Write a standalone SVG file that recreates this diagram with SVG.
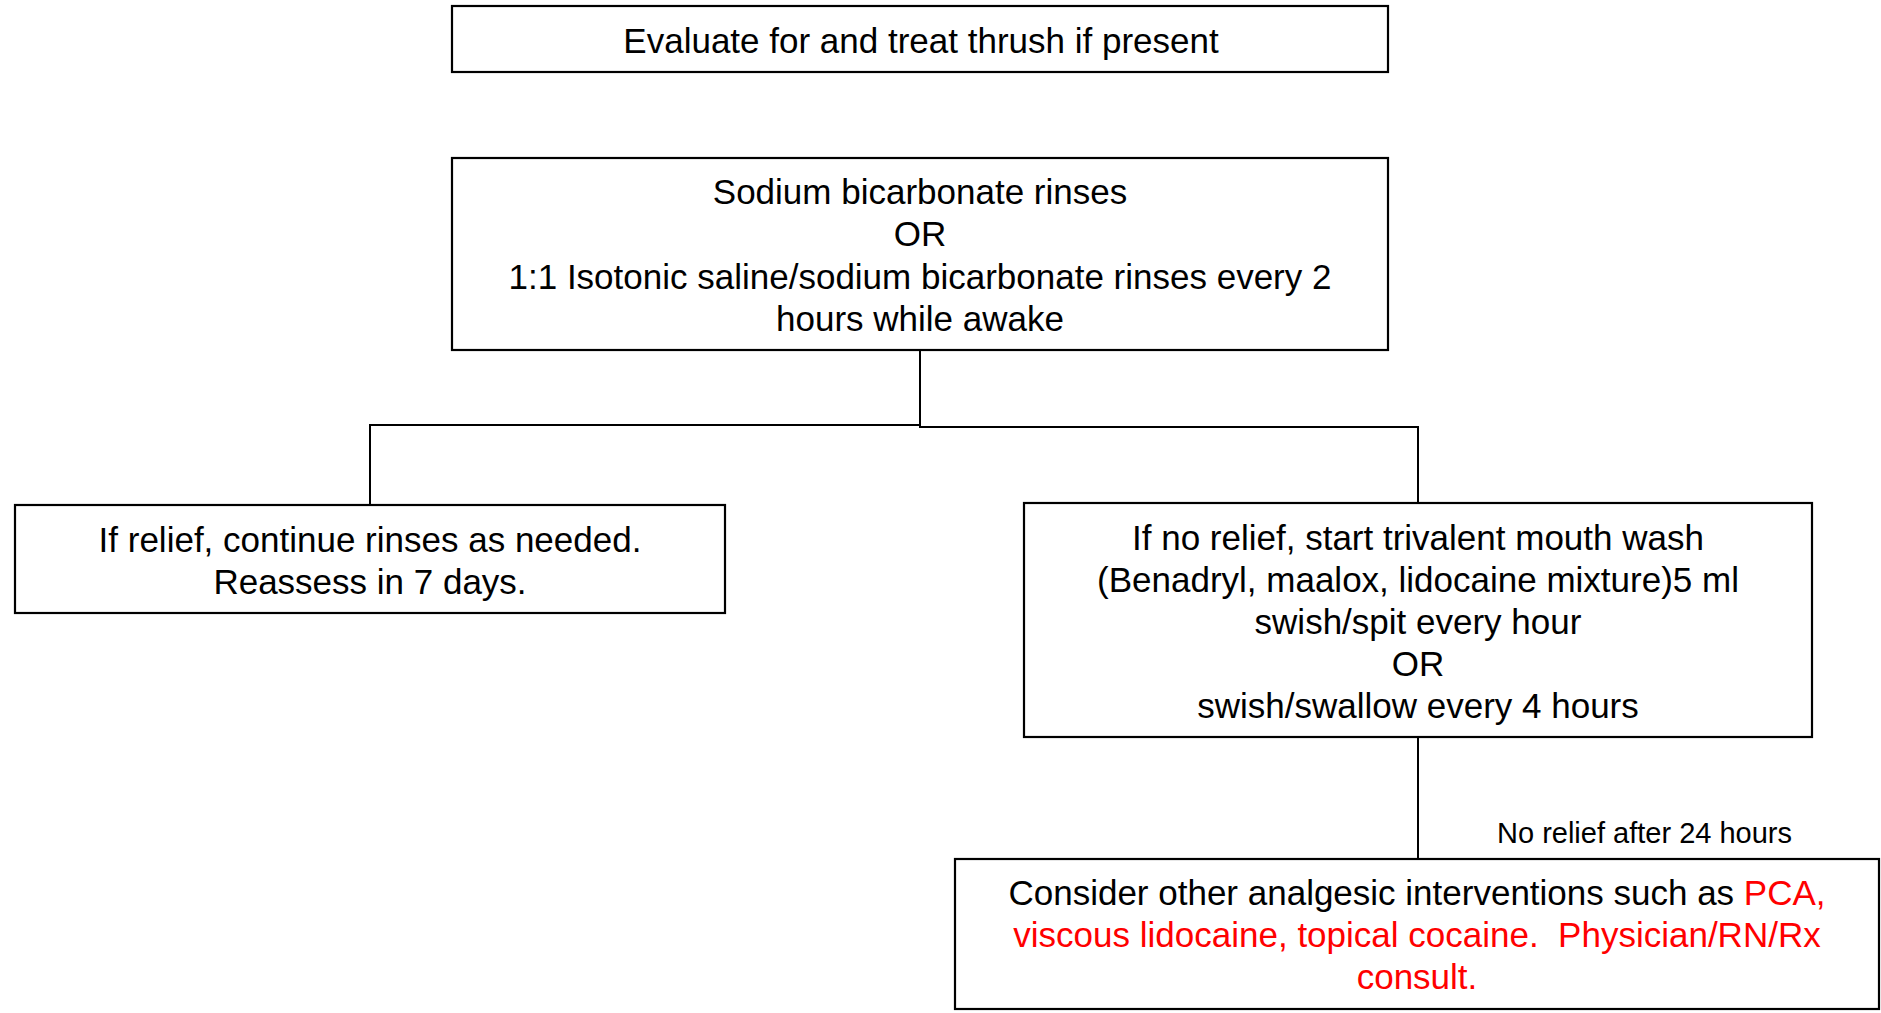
<svg xmlns="http://www.w3.org/2000/svg" width="1881" height="1013" viewBox="0 0 1881 1013">
<style>
.box{fill:#fff;stroke:#000;stroke-width:2.2}
.t{font-family:"Liberation Sans",Arial,sans-serif;font-size:35px;fill:#000;text-anchor:middle;white-space:pre}
.red{fill:#ff0000}
.lbl{font-family:"Liberation Sans",Arial,sans-serif;font-size:29px;fill:#000}
.c{fill:none;stroke:#000;stroke-width:2}
</style>
<rect width="1881" height="1013" fill="#fff"/>
<g id="connectors">
<polyline class="c" points="370,505 370,425 920,425"/>
<polyline class="c" points="920,350 920,427 1418,427 1418,503"/>
<line class="c" x1="1418" y1="737" x2="1418" y2="859"/>
<text class="lbl" x="1497" y="843">No relief after 24 hours</text>
</g>
<g id="n1">
<rect class="box" x="452" y="6" width="936" height="66"/>
<text class="t" x="921" y="53">Evaluate for and treat thrush if present</text>
</g>
<g id="n2">
<rect class="box" x="452" y="158" width="936" height="192"/>
<text class="t" x="920" y="204">Sodium bicarbonate rinses</text>
<text class="t" x="920" y="246">OR</text>
<text class="t" x="920" y="289">1:1 Isotonic saline/sodium bicarbonate rinses every 2</text>
<text class="t" x="920" y="331">hours while awake</text>
</g>
<g id="n3">
<rect class="box" x="15" y="505" width="710" height="108"/>
<text class="t" x="370" y="552">If relief, continue rinses as needed.</text>
<text class="t" x="370" y="594">Reassess in 7 days.</text>
</g>
<g id="n4">
<rect class="box" x="1024" y="503" width="788" height="234"/>
<text class="t" x="1418" y="550">If no relief, start trivalent mouth wash</text>
<text class="t" x="1418" y="592">(Benadryl, maalox, lidocaine mixture)5 ml</text>
<text class="t" x="1418" y="634">swish/spit every hour</text>
<text class="t" x="1418" y="676">OR</text>
<text class="t" x="1418" y="718">swish/swallow every 4 hours</text>
</g>
<g id="n5">
<rect class="box" x="955" y="859" width="924" height="150"/>
<text class="t" x="1417" y="905">Consider other analgesic interventions such as <tspan class="red">PCA,</tspan></text>
<text class="t red" x="1417" y="947" xml:space="preserve">viscous lidocaine, topical cocaine.  Physician/RN/Rx</text>
<text class="t red" x="1417" y="989">consult.</text>
</g>
</svg>
